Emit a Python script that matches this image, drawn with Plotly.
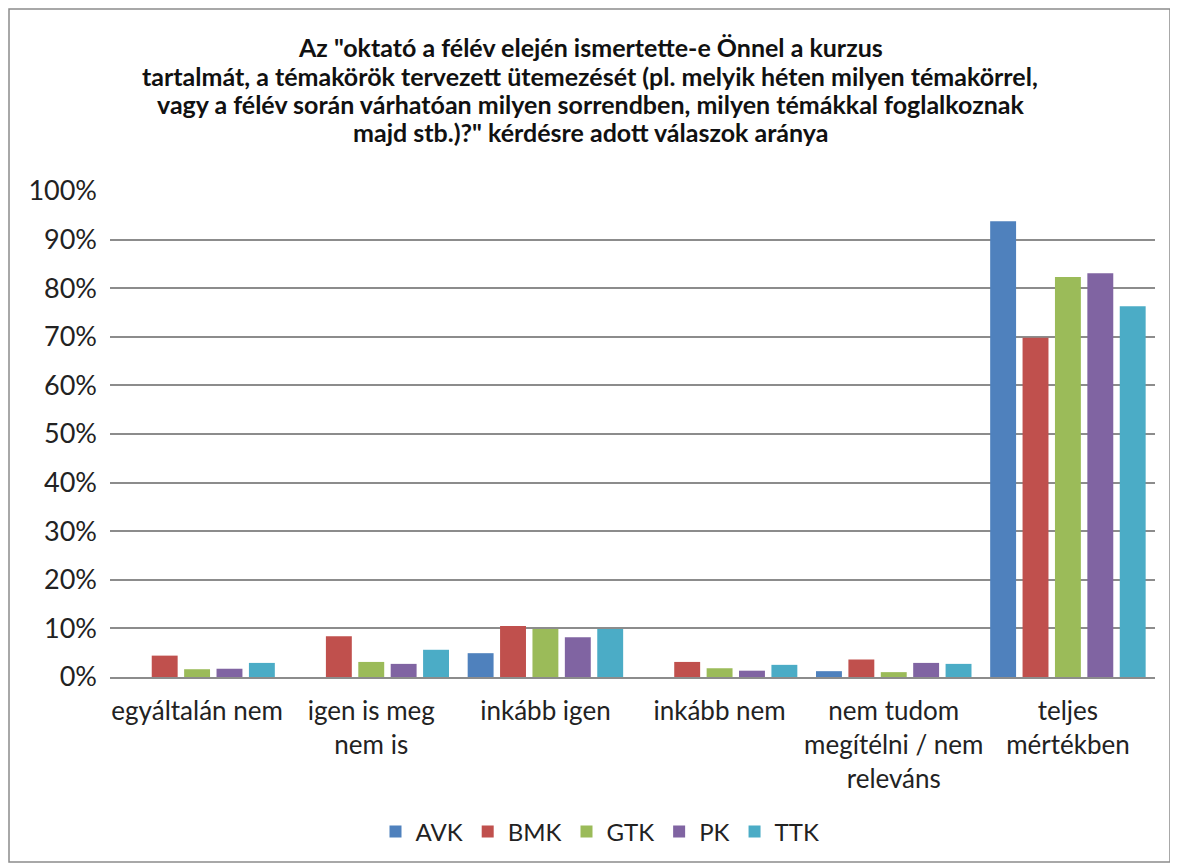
import plotly.graph_objects as go

categories = ["egyáltalán nem", "igen is meg<br>nem is", "inkább igen", "inkább nem",
              "nem tudom<br>megítélni / nem<br>releváns", "teljes<br>mértékben"]
series_names = ["AVK", "BMK", "GTK", "PK", "TTK"]
avk = [0.0, 0.0, 0.049, 0.0, 0.012, 0.938]
bmk = [0.044, 0.084, 0.105, 0.031, 0.036, 0.698]
gtk = [0.016, 0.031, 0.099, 0.018, 0.010, 0.823]
pk = [0.017, 0.027, 0.082, 0.013, 0.029, 0.831]
ttk = [0.029, 0.056, 0.099, 0.025, 0.027, 0.763]
colors = ["#4F81BD", "#C0504D", "#9BBB59", "#8064A2", "#4BACC6"]
title_lines = ['Az "oktató a félév elején ismertette-e Önnel a kurzus',
               'tartalmát, a témakörök tervezett ütemezését (pl. melyik héten milyen témakörrel,',
               'vagy a félév során várhatóan milyen sorrendben, milyen témákkal foglalkoznak',
               'majd stb.)?" kérdésre adott válaszok aránya']

FONT = "Lato, Carlito, Calibri, sans-serif"
OFF = 8  # page body margin
W, H = 1178 - OFF, 868 - OFF
L, R, T, B = 110 - OFF, 1178 - 1155, 191 - OFF, 868 - 677
pw, ph = W - L - R, H - T - B


def py(y_abs):
    """absolute screenshot y -> paper y"""
    return (677 - y_abs) / ph


def px(x_abs):
    return (x_abs - 110) / pw


fig = go.Figure()
for name, vals, col in zip(series_names, [avk, bmk, gtk, pk, ttk], colors):
    fig.add_trace(go.Bar(name=name, x=categories, y=vals, marker_color=col,
                         marker_line_width=0))

annotations = []
for i, (line, yy) in enumerate(zip(title_lines, [47, 76, 104, 132])):
    annotations.append(dict(text="<b>" + line + "</b>", xref="paper", yref="paper",
                            x=px(590), y=py(yy), xanchor="center", yanchor="middle",
                            showarrow=False,
                            font=dict(family=FONT, size=25, color="#111111")))

fig.update_layout(
    width=W, height=H,
    margin=dict(l=L, r=R, t=T, b=B),
    paper_bgcolor="white", plot_bgcolor="white",
    font=dict(family=FONT, size=26, color="#222222"),
    barmode="group", bargap=0.07, bargroupgap=0.2,
    annotations=annotations,
    legend=dict(orientation="h", x=px(600), xanchor="center", y=py(832),
                yanchor="middle", font=dict(size=24), itemwidth=30, traceorder="normal"),
    yaxis=dict(range=[0, 1.0], tickvals=[i / 10 for i in range(11)], tickformat=".0%",
               showgrid=True, gridcolor="#8C8C8C", gridwidth=1.5, zeroline=False,
               showline=False, ticks="", ticklabelstandoff=12,
               tickfont=dict(size=27)),
    xaxis=dict(showline=True, linecolor="#8C8C8C", linewidth=1.5, ticks="",
               tickangle=0, ticklabelstandoff=10),
    shapes=[dict(type="rect", xref="paper", yref="paper",
                 x0=px(9), x1=px(1170), y0=py(862), y1=py(9),
                 line=dict(color="#8C8C8C", width=1.5), fillcolor="rgba(0,0,0,0)")],
)
fig.write_html("out.html")
